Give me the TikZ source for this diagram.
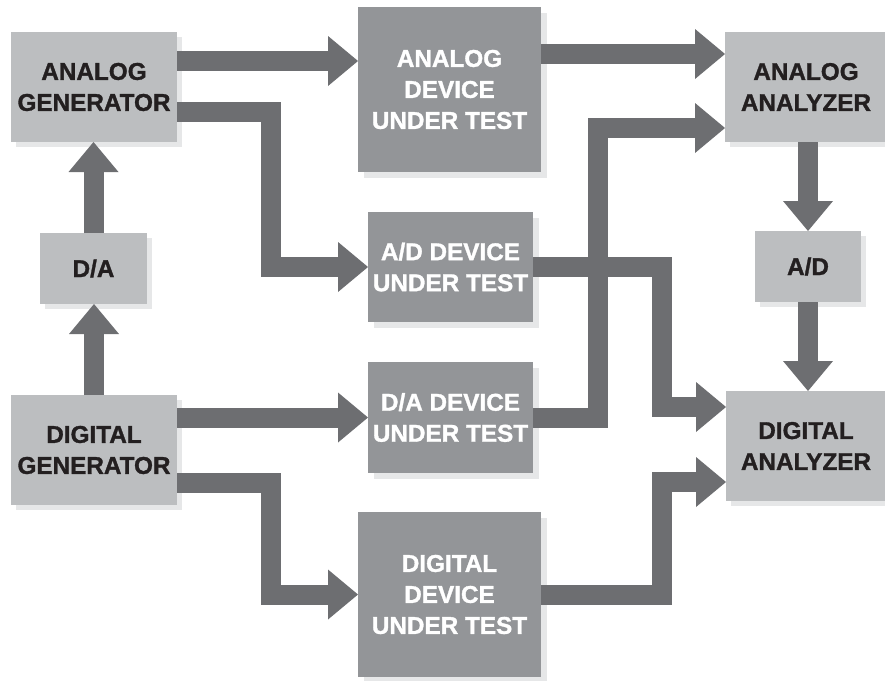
\documentclass[tikz,border=0pt]{standalone}
\usepackage{fontspec}
\setmainfont{Liberation Sans}
\newfontfamily\heavyfont{Liberation Sans Bold}[FakeBold=1.3]
\usetikzlibrary{arrows.meta,shadows}
\definecolor{lbox}{HTML}{BCBEC0}
\definecolor{dbox}{HTML}{939598}
\definecolor{arr}{HTML}{6D6E71}
\definecolor{shd}{HTML}{E6E7E8}
\definecolor{txt}{HTML}{231F20}
\begin{document}
\begin{tikzpicture}[x=1pt,y=-1pt,
  box/.style={rectangle, inner sep=0pt, outer sep=0pt, align=center,
    font=\heavyfont\fontsize{24.3}{31}\selectfont},
  lbx/.style={box, fill=lbox, text=txt,
    general shadow={fill=shd, shadow xshift=5pt, shadow yshift=-5pt}},
  dbx/.style={box, fill=dbox, text=white,
    general shadow={fill=shd, shadow xshift=6pt, shadow yshift=-6pt}},
  conn/.style={draw=arr, line width=20pt, line join=miter,
    -{Triangle[width=50pt,length=30pt,line width=0pt]}}]
\useasboundingbox (0,0) rectangle (885,680);

% light boxes
\node[lbx, minimum width=166pt, minimum height=110pt] (ag) at (94,87) {ANALOG\\GENERATOR};
\node[lbx, minimum width=107pt, minimum height=71pt] (da1) at (93.5,268.5) {D/A};
\node[lbx, minimum width=166pt, minimum height=110pt] (dg) at (94,450) {DIGITAL\\GENERATOR};
\node[lbx, minimum width=162pt, minimum height=110pt] (aa) at (806,87) {ANALOG\\ANALYZER};
\node[lbx, minimum width=106pt, minimum height=71pt] (ad2) at (808,266.5) {A/D};
\node[lbx, minimum width=160pt, minimum height=110pt] (dia) at (806,446) {DIGITAL\\ANALYZER};

% dark boxes (devices under test)
\node[dbx, minimum width=183pt, minimum height=165pt] (adut) at (449.5,89.5) {ANALOG\\DEVICE\\UNDER TEST};
\node[dbx, minimum width=165pt, minimum height=110pt] (addut) at (450.5,267) {A/D DEVICE\\UNDER TEST};
\node[dbx, minimum width=165pt, minimum height=111pt] (dadut) at (450.5,417.5) {D/A DEVICE\\UNDER TEST};
\node[dbx, minimum width=183pt, minimum height=165pt] (ddut) at (449.5,594.5) {DIGITAL\\DEVICE\\UNDER TEST};

% bend lines
\coordinate (v1) at (270.5,0);
\coordinate (v2) at (598,0);
\coordinate (v3) at (662,0);

% connectors
\draw[conn] ([yshift=26pt]ag.east) -- ([yshift=26pt]ag.east -| adut.west);
\draw[conn] ([yshift=-25pt]ag.east) -- ([yshift=-25pt]ag.east -| v1) |- (addut.west);
\draw[conn] (dg.east |- dadut.west) -- (dadut.west);
\draw[conn] ([yshift=-33pt]dg.east) -- ([yshift=-33pt]dg.east -| v1) |- (ddut.west);
\draw[conn] (da1.north) -- (da1.north |- ag.south);
\draw[conn] (dg.north) -- (dg.north |- da1.south);
\draw[conn] (adut.east |- 0,54) -- (aa.west |- 0,54);
\draw[conn] (dadut.east) -- (dadut.east -| v2) |- (aa.west |- 0,128);
\draw[conn] (addut.east) -- (addut.east -| v3) |- (dia.west |- 0,407);
\draw[conn] (ddut.east) -- (ddut.east -| v3) |- (dia.west |- 0,482);
\draw[conn] (ad2.north |- aa.south) -- (ad2.north);
\draw[conn] (ad2.south) -- (ad2.south |- dia.north);
\end{tikzpicture}
\end{document}
